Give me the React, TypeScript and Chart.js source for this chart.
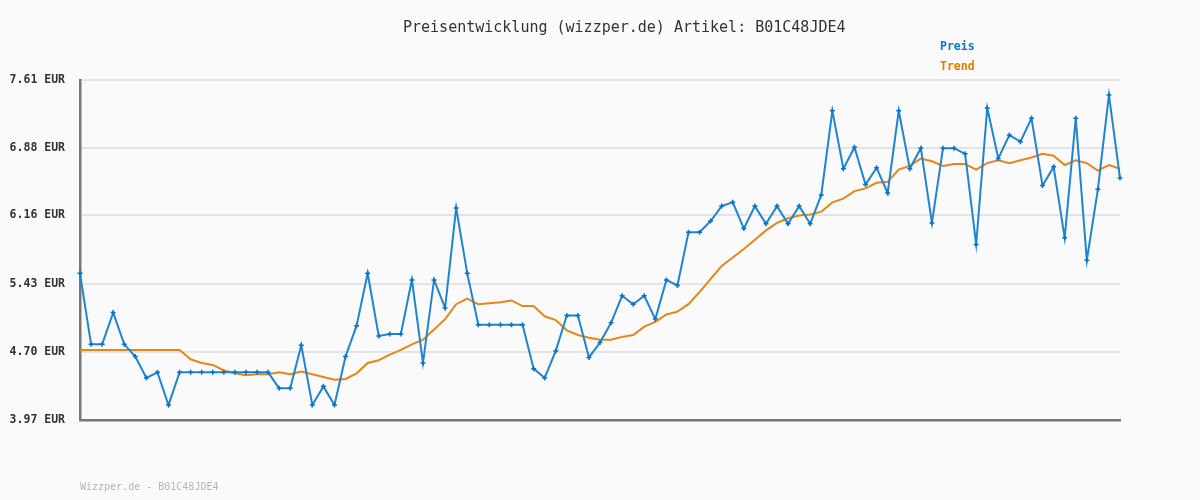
import React, { useEffect, useRef } from "react";
import { Chart, registerables } from "chart.js";

Chart.register(...registerables);

const TITLE = "Preisentwicklung (wizzper.de) Artikel: B01C48JDE4";
const FOOTER = "Wizzper.de - B01C48JDE4";
const SERIES_NAMES = ["Preis", "Trend"];
const yTicks = [3.97, 4.7, 5.43, 6.16, 6.88, 7.61];

const preis = [
  5.54, 4.78, 4.78, 5.12, 4.78, 4.65, 4.42, 4.48, 4.13, 4.48,
  4.48, 4.48, 4.48, 4.48, 4.48, 4.48, 4.48, 4.48, 4.31, 4.31,
  4.77, 4.13, 4.33, 4.13, 4.65, 4.98, 5.54, 4.87, 4.89, 4.89,
  5.47, 4.58, 5.47, 5.17, 6.24, 5.54, 4.99, 4.99, 4.99, 4.99,
  4.99, 4.52, 4.42, 4.71, 5.09, 5.09, 4.64, 4.8, 5.01, 5.3,
  5.21, 5.3, 5.05, 5.47, 5.41, 5.98, 5.98, 6.1, 6.26, 6.3,
  6.02, 6.26, 6.07, 6.26, 6.07, 6.26, 6.07, 6.38, 7.28, 6.66,
  6.89, 6.49, 6.67, 6.4, 7.28, 6.66, 6.88, 6.08, 6.88, 6.88,
  6.82, 5.85, 7.31, 6.77, 7.02, 6.95, 7.2, 6.48, 6.68, 5.92,
  7.2, 5.68, 6.44, 7.45, 6.56,
];

const trend = [
  4.72, 4.72, 4.72, 4.72, 4.72, 4.72, 4.72, 4.72, 4.72, 4.72,
  4.62, 4.58, 4.56, 4.5, 4.47, 4.45, 4.46, 4.46, 4.48, 4.46,
  4.49, 4.46, 4.43, 4.4, 4.41, 4.47, 4.58, 4.61, 4.67, 4.72,
  4.78, 4.83, 4.94, 5.05, 5.21, 5.27, 5.21, 5.22, 5.23, 5.25,
  5.19, 5.19, 5.08, 5.04, 4.93, 4.88, 4.85, 4.83, 4.83, 4.86,
  4.88, 4.97, 5.02, 5.1, 5.13, 5.21, 5.34, 5.48, 5.62, 5.71,
  5.8, 5.9, 6.0, 6.08, 6.13, 6.16, 6.17, 6.2, 6.3, 6.34,
  6.42, 6.45, 6.51, 6.52, 6.65, 6.69, 6.77, 6.74, 6.69, 6.71,
  6.71, 6.65, 6.72, 6.75, 6.72, 6.75, 6.78, 6.82, 6.8, 6.7,
  6.75, 6.72, 6.64, 6.7, 6.66,
];

const categories = preis.map((_, i) => String(i + 1));

const MONO = '"DejaVu Sans Mono", "Liberation Mono", monospace';
const BLUE_LINE = "#1f84d2";
const BLUE_POINT = "#0a72c2";
const BLUE_TEXT = "#0a78c8";
const ORANGE_LINE = "#e6861a";
const ORANGE_TEXT = "#e07a00";

const overlay = {
  id: "overlay",
  beforeDraw(chart: any) {
    const ctx = chart.ctx;
    ctx.save();
    ctx.fillStyle = "#fafafa";
    ctx.fillRect(0, 0, chart.width, chart.height);
    ctx.restore();
  },
  afterDraw(chart: any) {
    const ctx = chart.ctx;
    ctx.save();
    ctx.textBaseline = "middle";
    ctx.textAlign = "left";
    ctx.fillStyle = "#333333";
    ctx.font = `15px ${MONO}`;
    ctx.fillText(TITLE, 403, 28);

    ctx.font = `bold 11.5px ${MONO}`;
    ctx.fillStyle = BLUE_TEXT;
    ctx.fillText(SERIES_NAMES[0], 940, 47);
    ctx.fillStyle = ORANGE_TEXT;
    ctx.fillText(SERIES_NAMES[1], 940, 67);

    ctx.font = `10px ${MONO}`;
    ctx.fillStyle = "#b4b4b4";
    ctx.fillText(FOOTER, 80, 487);
    ctx.restore();
  },
};

export default function App() {
  const ref = useRef<HTMLCanvasElement>(null);

  useEffect(() => {
    if (!ref.current) return;
    const chart = new Chart(ref.current, {
      type: "line",
      data: {
        labels: categories,
        datasets: [
          {
            label: SERIES_NAMES[0],
            data: preis,
            borderColor: BLUE_LINE,
            borderWidth: 2,
            pointStyle: "cross",
            pointRadius: 2.5,
            pointBorderWidth: 1.5,
            pointBorderColor: BLUE_POINT,
            pointBackgroundColor: BLUE_POINT,
            tension: 0,
            clip: false as any,
            order: 1,
          },
          {
            label: SERIES_NAMES[1],
            data: trend,
            borderColor: ORANGE_LINE,
            borderWidth: 2,
            pointRadius: 0,
            tension: 0,
            clip: false as any,
            order: 2,
          },
        ],
      },
      options: {
        responsive: false,
        animation: false,
        devicePixelRatio: 1,
        layout: { padding: { top: 80, right: 80, left: 0, bottom: 0 } },
        plugins: {
          legend: { display: false },
          title: { display: false },
          tooltip: { enabled: false },
        },
        scales: {
          x: {
            type: "category",
            offset: false,
            grid: { display: false, drawTicks: false },
            border: { display: true, color: "#777777", width: 2.5 },
            ticks: { display: false },
            afterFit(scale: any) {
              scale.height = 80;
            },
          },
          y: {
            min: 3.97,
            max: 7.61,
            grid: { color: "#e4e4e4", lineWidth: 2, drawTicks: false },
            border: { display: true, color: "#777777", width: 2.5 },
            afterBuildTicks(scale: any) {
              scale.ticks = yTicks.map((v) => ({ value: v }));
            },
            afterFit(scale: any) {
              scale.width = 80;
            },
            ticks: {
              autoSkip: false,
              padding: 15,
              color: "#333333",
              font: { family: MONO, size: 11.5, weight: "bold" },
              callback: (v: any) => Number(v).toFixed(2) + " EUR",
            },
          },
        },
      },
      plugins: [overlay],
    });
    return () => chart.destroy();
  }, []);

  return (
    <div style={{ position: "fixed", left: 0, top: 0, width: 1200, height: 500, background: "#fafafa" }}>
      <canvas ref={ref} width={1200} height={500} style={{ display: "block" }} />
    </div>
  );
}
